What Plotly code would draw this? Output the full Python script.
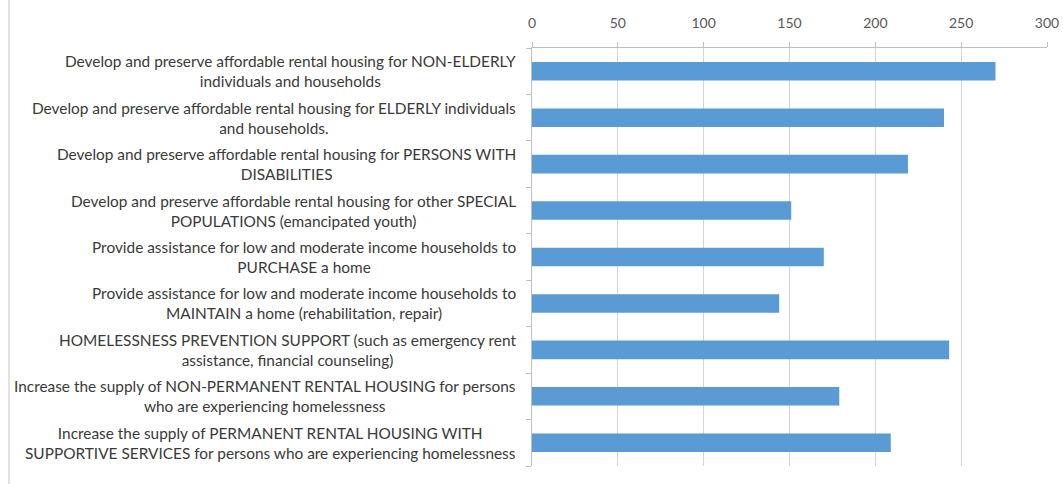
import plotly.graph_objects as go

categories = [
    "Develop and preserve affordable rental housing for NON-ELDERLY<br>individuals and households",
    "Develop and preserve affordable rental housing for ELDERLY individuals<br>and households.",
    "Develop and preserve affordable rental housing for PERSONS WITH<br>DISABILITIES",
    "Develop and preserve affordable rental housing for other SPECIAL<br>POPULATIONS (emancipated youth)",
    "Provide assistance for low and moderate income households to<br>PURCHASE a home",
    "Provide assistance for low and moderate income households to<br>MAINTAIN a home (rehabilitation, repair)",
    "HOMELESSNESS PREVENTION SUPPORT (such as emergency rent<br>assistance, financial counseling)",
    "Increase the supply of NON-PERMANENT RENTAL HOUSING for persons<br>who are experiencing homelessness",
    "Increase the supply of PERMANENT RENTAL HOUSING WITH<br>SUPPORTIVE SERVICES for persons who are experiencing homelessness",
]
values = [270, 240, 219, 151, 170, 144, 243, 179, 209]
x_ticks = [0, 50, 100, 150, 200, 250, 300]

positions = list(range(len(categories)))
FONT = "Lato"
TEXT = "#3a3a3a"

fig = go.Figure(
    go.Bar(
        x=values,
        y=positions,
        orientation="h",
        width=0.4,
        marker=dict(color="#5b9bd5", line=dict(width=0)),
        hoverinfo="skip",
    )
)

annotations = [
    dict(
        x=0, xref="paper", y=p, yref="y",
        text=label, showarrow=False,
        xanchor="right", yanchor="middle", align="center",
        xshift=-14,
        font=dict(family=FONT, size=15.4, color=TEXT),
    )
    for p, label in zip(positions, categories)
]

fig.update_layout(
    width=1063,
    height=484,
    margin=dict(l=532, r=16, t=48, b=18, autoexpand=False),
    paper_bgcolor="white",
    plot_bgcolor="white",
    showlegend=False,
    annotations=annotations,
    shapes=[
        dict(
            type="line", xref="paper", yref="paper",
            x0=(9 - 532) / 515, x1=(9 - 532) / 515,
            y0=-18 / 418, y1=1 + 48 / 418,
            line=dict(color="#d9d9d9", width=1.5),
        )
    ],
    xaxis=dict(
        side="top",
        range=[0, 300],
        tickvals=x_ticks,
        ticks="outside",
        ticklen=5,
        tickcolor="#bfbfbf",
        ticklabelstandoff=8,
        showline=True,
        linecolor="#bfbfbf",
        showgrid=True,
        gridcolor="#d4d4d4",
        gridwidth=1,
        zeroline=False,
        tickfont=dict(family=FONT, size=14, color="#595959"),
        fixedrange=True,
    ),
    yaxis=dict(
        range=[len(categories) - 0.5, -0.5],
        tickvals=[p - 0.5 for p in positions] + [len(categories) - 0.5],
        ticktext=[""] * (len(categories) + 1),
        ticks="outside",
        ticklen=5,
        tickcolor="#bfbfbf",
        showline=True,
        linecolor="#bfbfbf",
        showgrid=False,
        zeroline=False,
        fixedrange=True,
    ),
)

fig.write_html("out.html")
